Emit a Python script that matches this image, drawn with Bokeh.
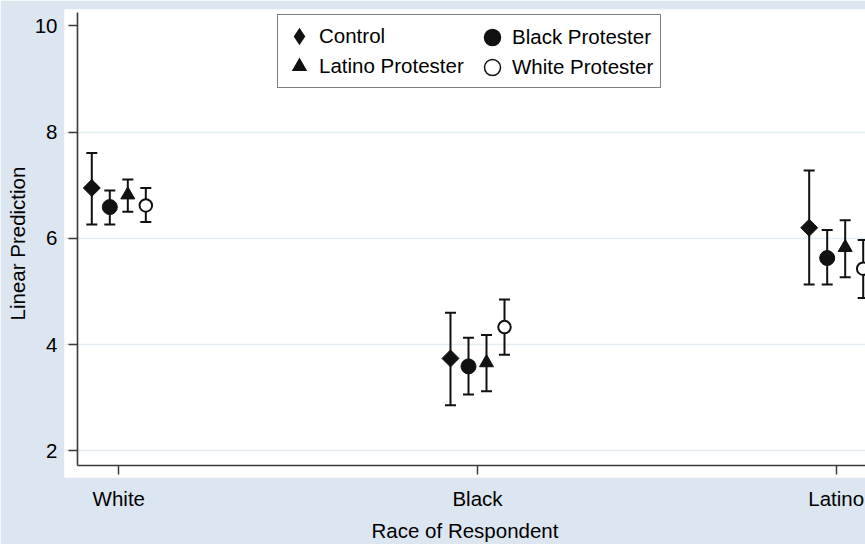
from math import pi
from bokeh.plotting import figure
from bokeh.models import (Range1d, FixedTicker, Legend, LegendItem, ColumnDataSource,
                          LinearAxis)
from bokeh.embed import file_html
from bokeh.resources import INLINE

# ---- data ----
categories = ["White", "Black", "Latino"]
series = ["Control", "Black Protester", "Latino Protester", "White Protester"]

control_est = [6.95, 3.74, 6.20]
control_lo = [6.26, 2.86, 5.13]
control_hi = [7.61, 4.60, 7.28]

black_est = [6.59, 3.59, 5.63]
black_lo = [6.26, 3.06, 5.13]
black_hi = [6.90, 4.13, 6.16]

latino_est = [6.82, 3.66, 5.83]
latino_lo = [6.50, 3.12, 5.27]
latino_hi = [7.11, 4.18, 6.34]

white_est = [6.62, 4.33, 5.43]
white_lo = [6.31, 3.81, 4.88]
white_hi = [6.95, 4.85, 5.97]

y_ticks = [2, 4, 6, 8, 10]

# ---- styling ----
FONT = "Liberation Sans"
FS = "20.5px"
BG = "#DCE6F1"
INK = "#111111"
AXIS = "#3a3a3a"

X_AXIS_AT = 1.727      # where the x axis line crosses (data units)
Y_AXIS_AT = -0.1152    # where the y axis line crosses (data units)

dodge = [-0.0753, -0.0251, 0.0251, 0.0753]
estimates = [control_est, black_est, latino_est, white_est]
lows = [control_lo, black_lo, latino_lo, white_lo]
highs = [control_hi, black_hi, latino_hi, white_hi]
marker_styles = [
    dict(marker="square", size=12, angle=pi / 4, fill_color=INK, line_color=INK, line_width=1),
    dict(marker="circle", size=15, fill_color=INK, line_color=INK, line_width=1),
    dict(marker="triangle", size=14, fill_color=INK, line_color=INK, line_width=1),
    dict(marker="circle", size=12.5, fill_color="white", line_color=INK, line_width=2),
]
legend_styles = [
    dict(marker="diamond", fill_color=INK, line_color=INK, line_width=3, line_join="miter"),
    dict(marker="circle", fill_color=INK, line_color=INK, line_width=1.5),
    dict(marker="triangle", fill_color=INK, line_color=INK, line_width=2, line_join="miter"),
    dict(marker="circle", fill_color="white", line_color=INK, line_width=1.5),
]

p = figure(
    width=865, height=544,
    x_range=Range1d(-0.1514, 2.0817), y_range=Range1d(1.498, 10.31),
    output_backend="svg", toolbar_location=None,
    min_border_left=64, min_border_right=0, min_border_top=9, min_border_bottom=61,
    background_fill_color="white", border_fill_color=BG,
)
p.outline_line_color = None

legend_renderers = []
for j, name in enumerate(series):
    xs = [i + dodge[j] for i in range(len(categories))]
    src = ColumnDataSource(dict(x=xs, est=estimates[j], lo=lows[j], hi=highs[j]))
    p.segment(x0="x", y0="lo", x1="x", y1="hi", source=src, line_color=INK, line_width=2)
    p.scatter(x="x", y="lo", source=src, marker="dash", size=11, line_color=INK, line_width=2)
    p.scatter(x="x", y="hi", source=src, marker="dash", size=11, line_color=INK, line_width=2)
    p.scatter(x="x", y="est", source=src, **marker_styles[j])
    # legend swatch: a glyph with no drawable position, used only for its look
    swatch = ColumnDataSource(dict(x=[float("nan")], y=[float("nan")]))
    lr = p.scatter(x="x", y="y", source=swatch, **legend_styles[j])
    legend_renderers.append(lr)

# ---- label axes at the frame edges ----
xa = p.xaxis[0]
xa.ticker = FixedTicker(ticks=list(range(len(categories))))
xa.major_label_overrides = {i: c for i, c in enumerate(categories)}
xa.axis_label = "Race of Respondent"
ya = p.yaxis[0]
ya.ticker = FixedTicker(ticks=y_ticks)
ya.axis_label = "Linear Prediction"
for ax in (xa, ya):
    ax.axis_line_color = None
    ax.major_tick_line_color = None
    ax.minor_tick_line_color = None
    ax.major_tick_out = 0
    ax.major_tick_in = 0
    ax.major_label_text_font = FONT
    ax.major_label_text_font_size = FS
    ax.major_label_text_color = "black"
    ax.axis_label_text_font = FONT
    ax.axis_label_text_font_size = FS
    ax.axis_label_text_font_style = "normal"
    ax.axis_label_text_color = "black"
xa.major_label_standoff = 9
xa.axis_label_standoff = 6
ya.major_label_standoff = 7
ya.axis_label_standoff = 3

# ---- axis lines + ticks, crossing inside the plot region ----
y_line = LinearAxis(fixed_location=Y_AXIS_AT, bounds=(X_AXIS_AT, 10.25),
                    ticker=FixedTicker(ticks=y_ticks),
                    major_label_overrides={t: "" for t in y_ticks})
x_line = LinearAxis(fixed_location=X_AXIS_AT, bounds=(Y_AXIS_AT, 2.0817),
                    ticker=FixedTicker(ticks=list(range(len(categories)))),
                    major_label_overrides={i: "" for i in range(len(categories))})
for ax in (x_line, y_line):
    ax.axis_line_color = AXIS
    ax.axis_line_width = 1.6
    ax.major_tick_line_color = AXIS
    ax.major_tick_line_width = 1.5
    ax.major_tick_out = 9
    ax.major_tick_in = 0
    ax.minor_tick_line_color = None
    ax.major_label_text_font_size = "0px"
p.add_layout(y_line, "left")
p.add_layout(x_line, "below")

p.xgrid.visible = False
p.ygrid.ticker = FixedTicker(ticks=y_ticks[:-1])
p.ygrid.grid_line_color = "#E3ECF1"
p.ygrid.grid_line_width = 1.5

# ---- legend: first column carries the frame, second column's entries overlay it ----
text_style = dict(margin=0, spacing=0,
                  label_text_font=FONT, label_text_font_size=FS, label_text_color="black")
leg1 = Legend(
    items=[LegendItem(label=series[0], renderers=[legend_renderers[0]]),
           LegendItem(label=series[2], renderers=[legend_renderers[2]])],
    location=(213, 389), padding=6, label_standoff=5, label_width=335,
    glyph_width=30, glyph_height=30, label_height=30,
    border_line_color="black", border_line_width=1.5,
    background_fill_color="white", background_fill_alpha=1.0, **text_style,
)
leg2a = Legend(
    items=[LegendItem(label=series[1], renderers=[legend_renderers[1]])],
    location=(408, 420), padding=0, label_standoff=0,
    glyph_width=40, glyph_height=40, label_height=40,
    border_line_color=None, background_fill_alpha=0.0, **text_style,
)
leg2b = Legend(
    items=[LegendItem(label=series[3], renderers=[legend_renderers[3]])],
    location=(408, 390), padding=0, label_standoff=0,
    glyph_width=40, glyph_height=40, label_height=40,
    border_line_color=None, background_fill_alpha=0.0, **text_style,
)
p.add_layout(leg1)
p.add_layout(leg2a)
p.add_layout(leg2b)

open("out.html", "w").write(file_html(p, INLINE))
